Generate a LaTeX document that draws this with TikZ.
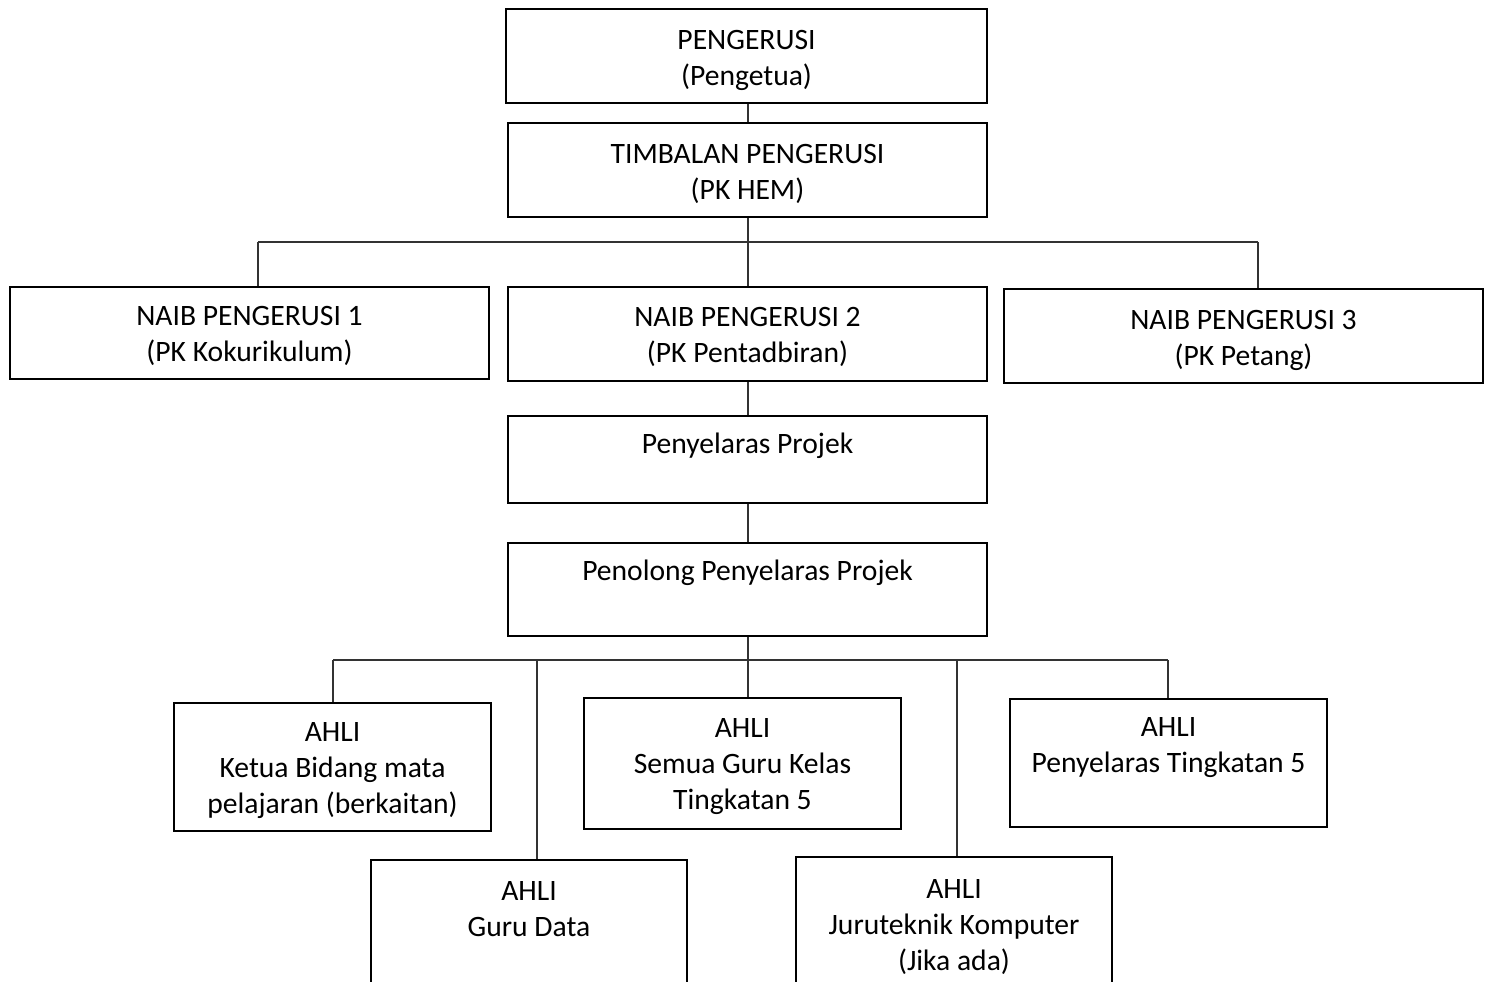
\documentclass[tikz,border=0pt]{standalone}
\usepackage{fontspec}
\setmainfont{Carlito}
\newcommand{\boxfont}{\fontsize{14.8}{18}\selectfont}
\newcommand{\firstln}[1]{\rule{0pt}{#1pt}}
\newcommand{\lastln}{\rule[-5.4pt]{0pt}{5.4pt}}
\begin{document}
\begin{tikzpicture}[x=0.5pt,y=-0.5pt,
  box/.style={draw=black, line width=1pt, inner sep=0pt, align=center, font=\boxfont},
  link/.style={draw=black!80, line width=0.6pt}]
\useasboundingbox (0,0) rectangle (1489,981);
\clip (0,0) rectangle (1489,981);
% top chain
\node[box, minimum width=240.5pt, minimum height=47pt] (peng) at (746.5,56) {\firstln{16.7}PENGERUSI\\(Pengetua)\lastln};
\node[box, minimum width=239.5pt, minimum height=47pt] (timb) at (747.5,170) {\firstln{16.7}TIMBALAN PENGERUSI\\(PK HEM)\lastln};
% naib
\node[box, minimum width=239.5pt, minimum height=46pt] (naib1) at (249.5,333) {\firstln{15.4}NAIB PENGERUSI 1\\(PK Kokurikulum)\lastln};
\node[box, minimum width=239.5pt, minimum height=47pt] (naib2) at (747.5,334) {\firstln{15.4}NAIB PENGERUSI 2\\(PK Pentadbiran)\lastln};
\node[box, minimum width=239.5pt, minimum height=47pt] (naib3) at (1243.5,336) {\firstln{16.4}NAIB PENGERUSI 3\\(PK Petang)\lastln};
% project chain
\node[box, minimum width=239.5pt, minimum height=43.5pt] (pp) at (747.5,459.5) {\firstln{17.2}Penyelaras Projek\\\lastln};
\node[box, minimum width=239.5pt, minimum height=46.5pt] (ppp) at (747.5,589) {\firstln{14.9}Penolong Penyelaras Projek\\\lastln};
% ahli
\node[box, minimum width=158.5pt, minimum height=64pt] (ketua) at (332.5,766.5) {\firstln{16.8}AHLI\\Ketua Bidang mata\\pelajaran (berkaitan)\lastln};
\node[box, minimum width=158.5pt, minimum height=65.5pt] (semua) at (742.5,763.5) {\firstln{15}AHLI\\Semua Guru Kelas\\Tingkatan 5\lastln};
\node[box, minimum width=158.5pt, minimum height=64pt] (tingk) at (1168.5,763) {\firstln{14.8}AHLI\\Penyelaras Tingkatan 5\\\lastln};
\node[box, minimum width=158pt, minimum height=67pt] (data) at (529,927) {\firstln{14.4}AHLI\\Guru Data\\\lastln};
\node[box, minimum width=158pt, minimum height=67pt] (juru) at (954,924) {\firstln{15.4}AHLI\\Juruteknik Komputer\\(Jika ada)\lastln};
% bus coordinates
\coordinate (busA) at (748,242);
\coordinate (busAL) at (258,242);
\coordinate (busAR) at (1258,242);
\coordinate (busB) at (748,660);
\coordinate (busBL) at (333,660);
\coordinate (busBR) at (1168,660);
\coordinate (busB2) at (537,660);
\coordinate (busB4) at (957,660);
% connectors
\draw[link] (busA |- peng.south) -- (busA |- timb.north);
\draw[link] (busA |- timb.south) -- (busA |- naib2.north);
\draw[link] (busAL) -- (busAR);
\draw[link] (busAL) -- (busAL |- naib1.north);
\draw[link] (busAR) -- (busAR |- naib3.north);
\draw[link] (busA |- naib2.south) -- (busA |- pp.north);
\draw[link] (busA |- pp.south) -- (busA |- ppp.north);
\draw[link] (busB |- ppp.south) -- (busB |- semua.north);
\draw[link] (busBL) -- (busBR);
\draw[link] (busBL) -- (busBL |- ketua.north);
\draw[link] (busB2) -- (busB2 |- data.north);
\draw[link] (busB4) -- (busB4 |- juru.north);
\draw[link] (busBR) -- (busBR |- tingk.north);
\end{tikzpicture}
\end{document}
